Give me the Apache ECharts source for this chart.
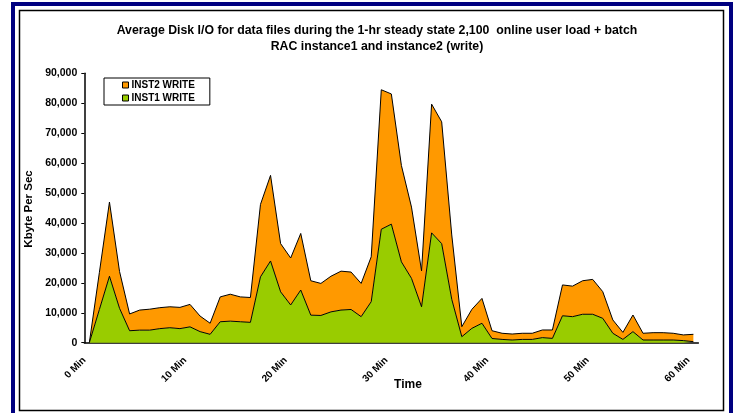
<!DOCTYPE html>
<html>
<head>
<meta charset="utf-8">
<script src="https://cdn.jsdelivr.net/npm/echarts@6/dist/echarts.min.js"></script>
<style>
  html, body { margin: 0; padding: 0; background: #ffffff; }
  #chart { width: 735px; height: 413px; }
</style>
</head>
<body>
<div id="chart"></div>
<script>
// Sample times, one per minute of the steady-state hour
const categories = [
  '0 Min', '1 Min', '2 Min', '3 Min', '4 Min', '5 Min', '6 Min', '7 Min', '8 Min', '9 Min',
  '10 Min', '11 Min', '12 Min', '13 Min', '14 Min', '15 Min', '16 Min', '17 Min', '18 Min', '19 Min',
  '20 Min', '21 Min', '22 Min', '23 Min', '24 Min', '25 Min', '26 Min', '27 Min', '28 Min', '29 Min',
  '30 Min', '31 Min', '32 Min', '33 Min', '34 Min', '35 Min', '36 Min', '37 Min', '38 Min', '39 Min',
  '40 Min', '41 Min', '42 Min', '43 Min', '44 Min', '45 Min', '46 Min', '47 Min', '48 Min', '49 Min',
  '50 Min', '51 Min', '52 Min', '53 Min', '54 Min', '55 Min', '56 Min', '57 Min', '58 Min', '59 Min',
  '60 Min'
];

// Write throughput (Kbyte/sec) of RAC instance 1
const inst1Write = [
  0, 11100, 22200, 11500, 4000, 4200, 4200, 4700, 5000, 4700,
  5300, 3700, 2800, 7000, 7200, 7000, 6800, 22000, 27300, 17000,
  12600, 17600, 9200, 9100, 10300, 10900, 11100, 8700, 13700, 37900,
  39600, 27000, 21500, 12000, 36700, 33100, 14500, 2000, 4800, 6500,
  1400, 1100, 900, 1100, 1100, 1700, 1450, 9000, 8700, 9500,
  9500, 8150, 3150, 1100, 3700, 900, 900, 900, 900, 700,
  350
];

// Write throughput (Kbyte/sec) of RAC instance 2, stacked on instance 1
const inst2Write = [
  0, 12400, 24800, 12300, 5600, 6700, 7000, 7000, 7000, 7100,
  7500, 5200, 3700, 8300, 9000, 8300, 8300, 24200, 28600, 16100,
  15700, 18900, 11500, 10700, 11900, 13000, 12500, 11100, 15000, 46600,
  43500, 32200, 23800, 12000, 43000, 40700, 21500, 3350, 6350, 8300,
  2600, 2050, 2000, 2050, 2050, 2550, 2800, 10300, 10200, 11200,
  11650, 8900, 4450, 2350, 5550, 2250, 2450, 2450, 2250, 1900,
  2450
];

const yTicks = { min: 0, max: 90000, step: 10000 };

const FONT = '"Liberation Sans", Arial, sans-serif';

const chart = echarts.init(document.getElementById('chart'), null, { renderer: 'canvas' });

chart.setOption({
  animation: false,
  backgroundColor: '#ffffff',
  graphic: [
    // navy outer frame
    { type: 'rect', silent: true, z: 0,
      shape: { x: 13, y: 4, width: 718, height: 414 },
      style: { fill: 'none', stroke: '#000080', lineWidth: 4 } },
    // chart-area border
    { type: 'rect', silent: true, z: 0,
      shape: { x: 19.5, y: 10.5, width: 704, height: 400 },
      style: { fill: '#ffffff', stroke: '#000000', lineWidth: 1.5 } },
    { type: 'text', silent: true, z: 10,
      x: 377, y: 39,
      style: {
        text: 'Average Disk I/O for data files during the 1-hr steady state 2,100  online user load + batch\nRAC instance1 and instance2 (write)',
        textAlign: 'center', textVerticalAlign: 'middle',
        font: 'bold 12.3px ' + FONT, lineHeight: 16, fill: '#000000'
      } },
    { type: 'text', silent: true, z: 10,
      x: 29, y: 209, rotation: Math.PI / 2,
      style: {
        text: 'Kbyte Per Sec', textAlign: 'center', textVerticalAlign: 'middle',
        font: 'bold 11.5px ' + FONT, fill: '#000000'
      } },
    { type: 'text', silent: true, z: 10,
      x: 408, y: 385,
      style: {
        text: 'Time', textAlign: 'center', textVerticalAlign: 'middle',
        font: 'bold 12px ' + FONT, fill: '#000000'
      } }
  ],
  grid: {
    left: 84.3, right: 36.6, top: 73.3, bottom: 70.3,
    show: true, backgroundColor: '#FFFF99',
    borderColor: '#000000', borderWidth: 1.5,
    containLabel: false
  },
  legend: {
    orient: 'vertical',
    left: 104, top: 78,
    data: [
      { name: 'INST2 WRITE', icon: 'rect' },
      { name: 'INST1 WRITE', icon: 'rect' }
    ],
    itemWidth: 6, itemHeight: 6, itemGap: 1,
    padding: [1, 15, 1, 18],
    backgroundColor: '#ffffff', borderColor: '#000000', borderWidth: 1,
    borderRadius: 0,
    itemStyle: { borderColor: '#000000', borderWidth: 1 },
    textStyle: { fontFamily: FONT, fontWeight: 'bold', fontSize: 10, color: '#000000', lineHeight: 12, padding: [0, 0, 0, -2] },
    selectedMode: false
  },
  xAxis: {
    type: 'category',
    data: categories,
    boundaryGap: true,
    axisLine: { show: true, lineStyle: { color: '#000000', width: 1.5 } },
    axisTick: { show: false },
    splitLine: { show: false },
    axisLabel: {
      interval: 9, rotate: 45, margin: 11,
      padding: [0, 7, 0, 0],
      fontFamily: FONT, fontWeight: 'bold', fontSize: 10, color: '#000000'
    }
  },
  yAxis: {
    type: 'value',
    min: yTicks.min, max: yTicks.max, interval: yTicks.step,
    axisLine: { show: true, lineStyle: { color: '#000000', width: 1.5 } },
    axisTick: { show: true, inside: false, length: 3, lineStyle: { color: '#000000' } },
    splitLine: { show: false },
    axisLabel: {
      margin: 7,
      fontFamily: FONT, fontWeight: 'bold', fontSize: 10.5, color: '#000000',
      formatter: v => v.toLocaleString('en-US')
    }
  },
  series: [
    {
      name: 'INST1 WRITE', type: 'line', stack: 'write', z: 3,
      data: inst1Write, symbol: 'none', smooth: false,
      itemStyle: { color: '#99CC00' },
      lineStyle: { color: '#000000', width: 1 },
      areaStyle: { color: '#99CC00', opacity: 1 },
      emphasis: { disabled: true }
    },
    {
      name: 'INST2 WRITE', type: 'line', stack: 'write', z: 2,
      data: inst2Write, symbol: 'none', smooth: false,
      itemStyle: { color: '#FF9900' },
      lineStyle: { color: '#000000', width: 1 },
      areaStyle: { color: '#FF9900', opacity: 1 },
      emphasis: { disabled: true }
    }
  ]
});
</script>
</body>
</html>
